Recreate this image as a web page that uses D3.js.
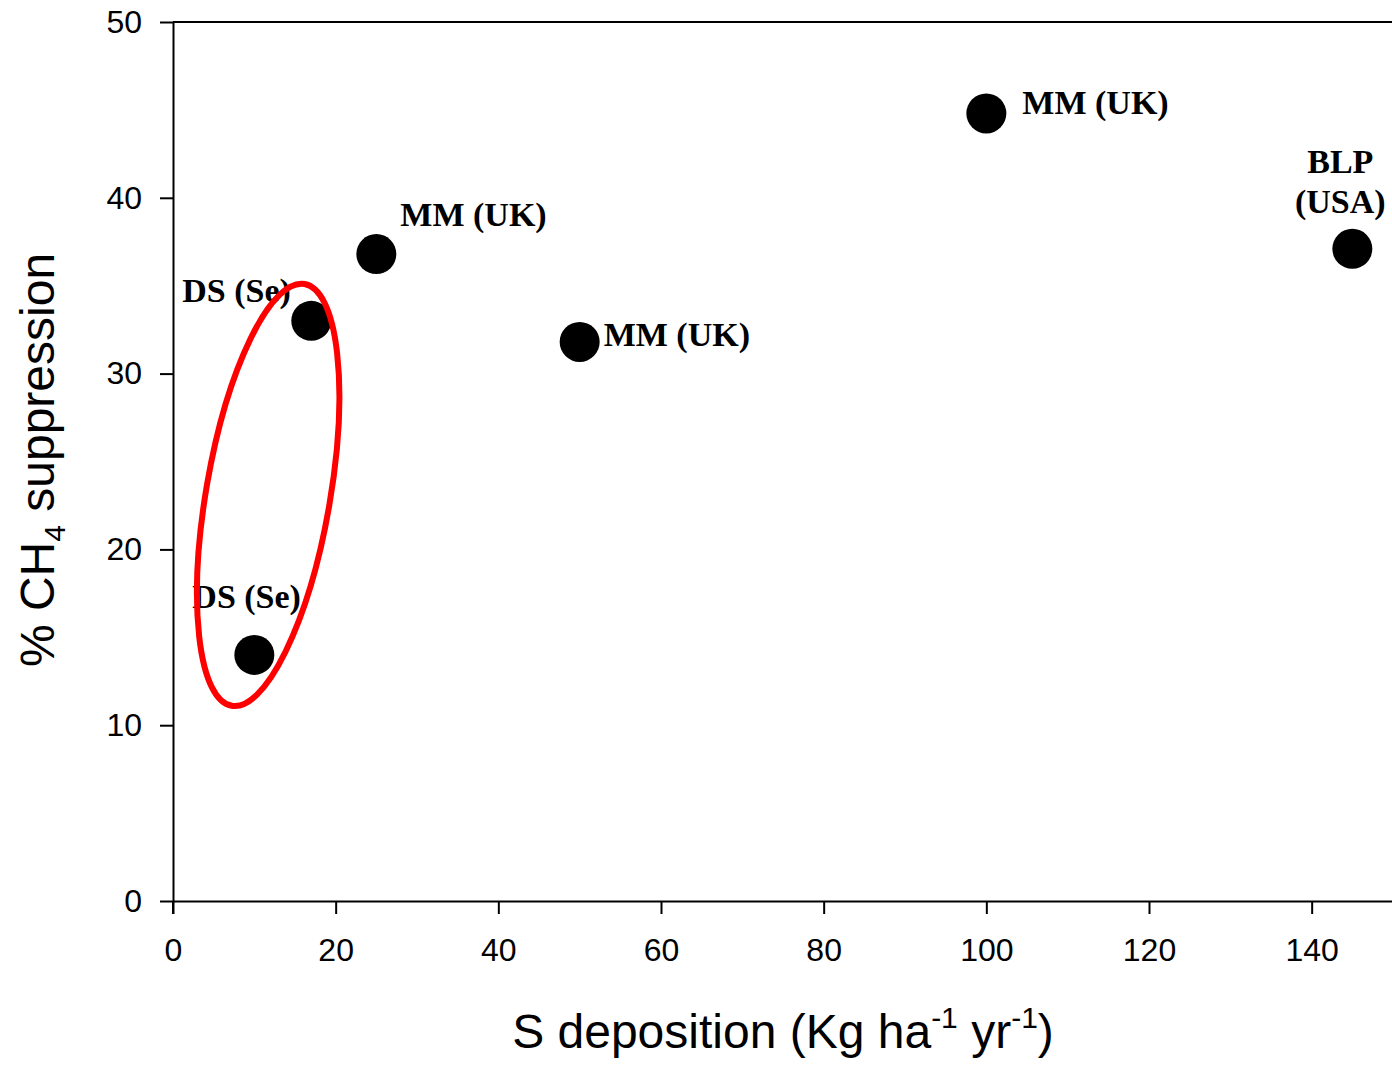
<!DOCTYPE html>
<html>
<head>
<meta charset="utf-8">
<script src="https://cdn.jsdelivr.net/npm/d3@7"></script>
<style>
  html, body { margin: 0; padding: 0; background: #fff; }
  svg { display: block; }
</style>
</head>
<body>
<div id="chart"></div>
<script>
// data
const sDeposition = [10, 17, 25, 50, 100, 145];
const ch4Suppression = [14.0, 33.0, 36.8, 31.8, 44.8, 37.1];
const siteLabels = [['DS (Se)'], ['DS (Se)'], ['MM (UK)'], ['MM (UK)'], ['MM (UK)'], ['BLP', '(USA)']];
const xTicks = [0, 20, 40, 60, 80, 100, 120, 140];
const yTicks = [0, 10, 20, 30, 40, 50];

// label placement relative to each point (px)
const labelOffsets = [
  { dx: -62, dy: -47, anchor: 'start' },
  { dx: -129, dy: -19, anchor: 'start' },
  { dx: 24, dy: -28, anchor: 'start' },
  { dx: 24, dy: 4, anchor: 'start' },
  { dx: 36, dy: 1, anchor: 'start' },
  { dx: -12, dy: -76, anchor: 'middle' }
];

const width = 1392;
const height = 1065;

const svg = d3.select('#chart')
  .append('svg')
  .attr('width', width)
  .attr('height', height);

const x = d3.scaleLinear().domain([0, 150]).range([173, 1393]);
const y = d3.scaleLinear().domain([0, 50]).range([901, 22]);

const tickFont = 'Liberation Sans, Arial, sans-serif';

// top frame line
svg.append('line')
  .attr('x1', x(0)).attr('x2', x(150))
  .attr('y1', y(50)).attr('y2', y(50))
  .attr('stroke', '#000').attr('stroke-width', 2);

const xAxis = svg.append('g')
  .attr('transform', `translate(0,${y(0)})`)
  .call(d3.axisBottom(x).tickValues(xTicks).tickSize(13).tickPadding(24).tickSizeOuter(0));

const yAxis = svg.append('g')
  .attr('transform', `translate(${x(0)},0)`)
  .call(d3.axisLeft(y).tickValues(yTicks).tickSize(13).tickPadding(18).tickSizeOuter(0));

[xAxis, yAxis].forEach(a => {
  a.select('.domain').attr('stroke', '#000').attr('stroke-width', 2);
  a.selectAll('.tick line').attr('stroke', '#000').attr('stroke-width', 2);
  a.selectAll('.tick text')
    .attr('fill', '#000')
    .style('font-family', tickFont)
    .style('font-size', '32px');
});

// left axis continues down to the tick length
svg.append('line')
  .attr('x1', x(0)).attr('x2', x(0))
  .attr('y1', y(0)).attr('y2', y(0) + 13)
  .attr('stroke', '#000').attr('stroke-width', 2);

const points = sDeposition.map((d, i) => ({ x: d, y: ch4Suppression[i], label: siteLabels[i], off: labelOffsets[i] }));

svg.append('g')
  .selectAll('circle')
  .data(points)
  .enter()
  .append('circle')
  .attr('cx', d => x(d.x))
  .attr('cy', d => y(d.y))
  .attr('r', 20)
  .attr('fill', '#000');

const labels = svg.append('g')
  .selectAll('text')
  .data(points)
  .enter()
  .append('text')
  .attr('x', d => x(d.x) + d.off.dx)
  .attr('y', d => y(d.y) + d.off.dy)
  .attr('text-anchor', d => d.off.anchor)
  .style('font-family', 'Liberation Serif, Times New Roman, serif')
  .style('font-weight', 'bold')
  .style('font-size', '34px')
  .attr('fill', '#000');

labels.each(function (d) {
  const t = d3.select(this);
  d.label.forEach((line, k) => {
    t.append('tspan')
      .attr('x', x(d.x) + d.off.dx)
      .attr('dy', k === 0 ? 0 : 40)
      .text(line);
  });
});

// red ellipse around the two DS (Se) points
const ellipseCenter = { x: 11.7, y: 23.1 };
svg.append('ellipse')
  .attr('transform', `translate(${x(ellipseCenter.x)},${y(ellipseCenter.y)}) rotate(9.8)`)
  .attr('rx', 62)
  .attr('ry', 214)
  .attr('fill', 'none')
  .attr('stroke', '#ff0000')
  .attr('stroke-width', 6);

// axis titles
const xTitle = svg.append('text')
  .attr('x', 783)
  .attr('y', 1048)
  .attr('text-anchor', 'middle')
  .style('font-family', tickFont)
  .style('font-size', '48px')
  .attr('fill', '#000');
xTitle.append('tspan').text('S deposition (Kg ha');
xTitle.append('tspan').attr('dy', -20).style('font-size', '30px').text('-1');
xTitle.append('tspan').attr('dy', 20).text(' yr');
xTitle.append('tspan').attr('dy', -20).style('font-size', '30px').text('-1');
xTitle.append('tspan').attr('dy', 20).text(')');

const yTitle = svg.append('text')
  .attr('transform', 'translate(54,460) rotate(-90)')
  .attr('text-anchor', 'middle')
  .style('font-family', tickFont)
  .style('font-size', '48px')
  .attr('fill', '#000');
yTitle.append('tspan').text('% CH');
yTitle.append('tspan').attr('dy', 11).style('font-size', '30px').text('4');
yTitle.append('tspan').attr('dy', -11).text(' suppression');
</script>
</body>
</html>
